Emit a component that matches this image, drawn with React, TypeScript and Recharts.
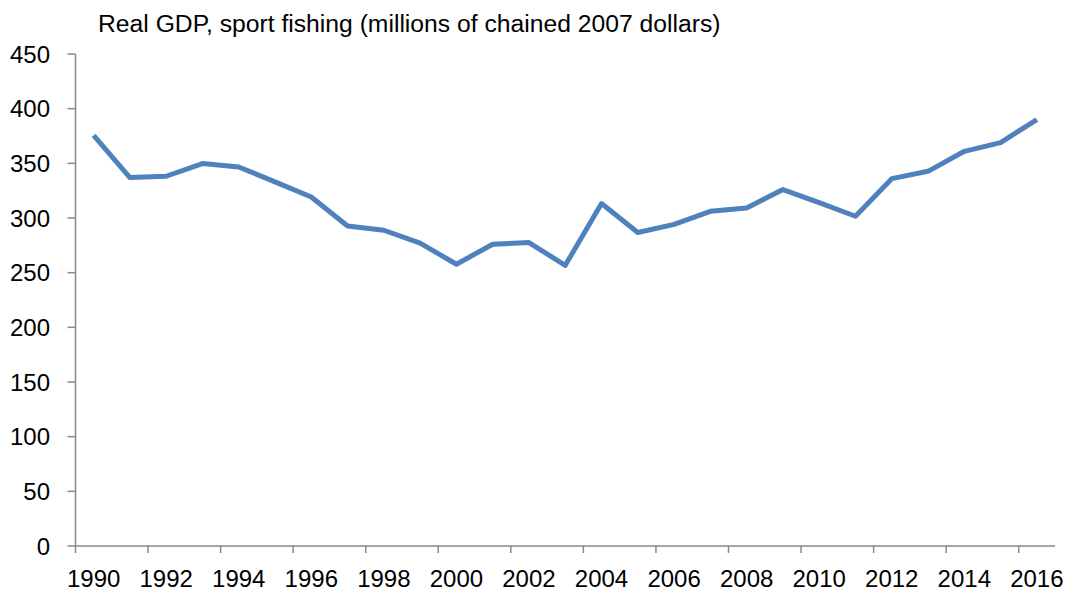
import React from "react";
import { LineChart, Line, XAxis, YAxis } from "recharts";

const years: string[] = [
  "1990", "1991", "1992", "1993", "1994", "1995", "1996", "1997", "1998", "1999",
  "2000", "2001", "2002", "2003", "2004", "2005", "2006", "2007", "2008", "2009",
  "2010", "2011", "2012", "2013", "2014", "2015", "2016",
];
const gdp: number[] = [
  375.6, 337.0, 338.2, 349.8, 346.7, 333.0, 319.2, 292.7, 288.8, 277.1,
  257.7, 276.0, 277.5, 256.7, 313.2, 286.7, 294.2, 306.1, 309.2, 326.0,
  314.1, 301.6, 336.0, 342.7, 361.0, 369.0, 390.0,
];
const yTicks: number[] = [0, 50, 100, 150, 200, 250, 300, 350, 400, 450];
const title = "Real GDP, sport fishing (millions of chained 2007 dollars)";

const data = years.map((y, i) => ({ year: y, value: gdp[i] }));

const W = 1069;
const H = 592;
const Y_AXIS_W = 75.5;
const X_AXIS_H = 46;
const MARGIN = { top: 54, right: 14, bottom: 0, left: 0 };
const FONT = "'Liberation Sans', Arial, Helvetica, sans-serif";
const AXIS_COLOR = "#898989";
const TICK_FONT = 24;
const X_TICK_SIZE = 7;
const X_TICK_MARGIN = 17;
const STEP = (W - Y_AXIS_W - MARGIN.right) / years.length;

const XTick = (props: any) => {
  const { x, y, payload } = props;
  const axisY = y - X_TICK_SIZE - X_TICK_MARGIN;
  const lx = x - STEP / 2;
  return (
    <g>
      <line x1={lx} x2={lx} y1={axisY} y2={axisY + X_TICK_SIZE} stroke={AXIS_COLOR} strokeWidth={1.5} />
      <text x={x} y={y} dy="0.71em" textAnchor="middle" fill="#000" fontSize={TICK_FONT} fontFamily={FONT}>
        {payload.value}
      </text>
    </g>
  );
};

export default function App() {
  return (
    <div style={{ position: "absolute", left: 0, top: 0, width: W, height: H, background: "#fff" }}>
      <div
        style={{
          position: "absolute",
          left: 98,
          top: 9.5,
          fontFamily: FONT,
          fontSize: 24.7,
          color: "#000",
          whiteSpace: "nowrap",
          lineHeight: "28px",
        }}
      >
        {title}
      </div>
      <LineChart width={W} height={H} data={data} margin={MARGIN}>
        <XAxis
          dataKey="year"
          scale="band"
          interval={1}
          height={X_AXIS_H}
          tickLine={false}
          tickSize={X_TICK_SIZE}
          tickMargin={X_TICK_MARGIN}
          tick={<XTick />}
          axisLine={{ stroke: AXIS_COLOR, strokeWidth: 1.5 }}
        />
        <YAxis
          domain={[0, 450]}
          ticks={yTicks}
          width={Y_AXIS_W}
          tickSize={8}
          tickMargin={17.5}
          tick={{ fill: "#000", fontSize: TICK_FONT, fontFamily: FONT }}
          tickLine={{ stroke: AXIS_COLOR, strokeWidth: 1.5 }}
          axisLine={{ stroke: AXIS_COLOR, strokeWidth: 1.5 }}
        />
        <Line
          dataKey="value"
          stroke="#4F81BD"
          strokeWidth={5}
          dot={false}
          isAnimationActive={false}
          strokeLinejoin="round"
        />
      </LineChart>
    </div>
  );
}
